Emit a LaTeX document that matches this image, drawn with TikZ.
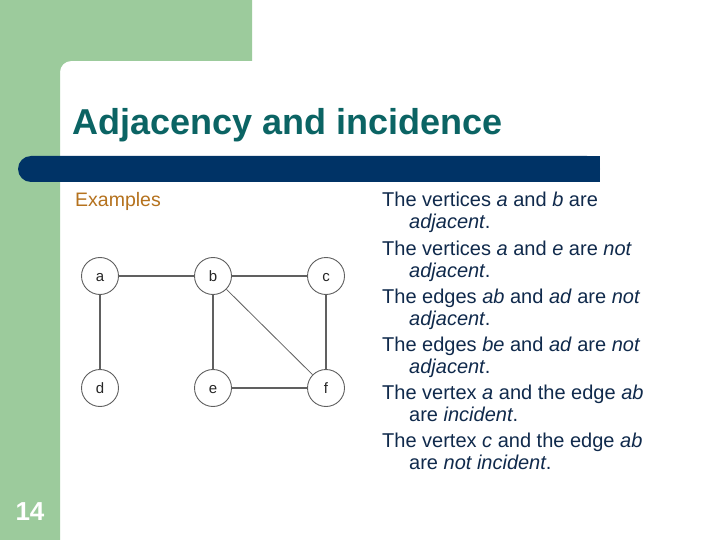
\documentclass[tikz,border=0pt]{standalone}
\usepackage{fontspec}
\setmainfont{Liberation Sans}
\usetikzlibrary{calc}
\definecolor{slidegreen}{HTML}{9CCB9C}
\definecolor{barblue}{HTML}{003366}
\definecolor{titleteal}{HTML}{0B6464}
\definecolor{subbrown}{HTML}{B5721E}
\definecolor{textnavy}{HTML}{102A4C}
\definecolor{edgegray}{HTML}{606060}
\tikzset{
  vertex/.style={circle, draw=edgegray, line width=0.9pt, minimum size=37pt, inner sep=0pt, text height=10pt, text depth=0pt, font=\fontsize{15}{15}\selectfont, text=black!85},
  edge/.style={draw=edgegray, line width=1.1pt},
  item/.style={anchor=base west, inner sep=0pt, align=left, text=textnavy, font=\fontsize{20}{22}\selectfont}
}

\begin{document}
\begin{tikzpicture}[x=1pt, y=-1pt]
			%%%%% START %%%%%
			\useasboundingbox (0, 0) rectangle (720, 540);
			\fill[white] (0, 0) rectangle (720, 540);
			
			\fill[slidegreen] (0, 0) -- (252, 0) -- (252, 61) -- (71, 61) .. controls (65, 61) and (60, 66) .. (60, 72) -- (60, 540) -- (0, 540) -- cycle;
			\fill[barblue, rounded corners=13pt] (18, 156) rectangle (600, 182);
			\fill[barblue] (580, 156) rectangle (600, 182);
			
			\node[anchor=base west, inner sep=0pt, text=titleteal, font=\fontsize{36}{36}\selectfont\bfseries] (title) at (72, 135) {Adjacency and incidence};
			\node[anchor=base west, inner sep=0pt, text=subbrown, font=\fontsize{19.5}{22}\selectfont] (examples) at (75, 207) {Examples};
			\node[anchor=base, inner sep=0pt, text=white, font=\fontsize{26}{26}\selectfont\bfseries] (pagenum) at (30, 520) {14};
			
			\node[vertex] (a) at (100, 276) {a};
			\node[vertex] (b) at (213, 276) {b};
			\node[vertex] (c) at (326, 276) {c};
			\node[vertex] (d) at (100, 388) {d};
			\node[vertex] (e) at (213, 388) {e};
			\node[vertex] (f) at (326, 388) {f};
			
			\draw[edge] (a) -- (b);
			\draw[edge] (b) -- (c);
			\draw[edge] (a) -- (d);
			\draw[edge] (b) -- (e);
			\draw[edge] (c) -- (f);
			\draw[edge] (e) -- (f);
			\draw[edge, line width=0.8pt] (b) -- (f);
			
			% base anchor sits on the second line
			\node[item] (item1) at (382, 229) {The vertices \textit{a} and \textit{b} are\\\hspace*{27pt}\textit{adjacent}.};
			\node[item] (item2) at (382, 277) {The vertices \textit{a} and \textit{e} are \textit{not}\\\hspace*{27pt}\textit{adjacent}.};
			\node[item] (item3) at (382, 325) {The edges \textit{ab} and \textit{ad} are \textit{not}\\\hspace*{27pt}\textit{adjacent}.};
			\node[item] (item4) at (382, 373) {The edges \textit{be} and \textit{ad} are \textit{not}\\\hspace*{27pt}\textit{adjacent}.};
			\node[item] (item5) at (382, 421) {The vertex \textit{a} and the edge \textit{ab}\\\hspace*{27pt}are \textit{incident}.};
			\node[item] (item6) at (382, 469) {The vertex \textit{c} and the edge \textit{ab}\\\hspace*{27pt}are \textit{not incident}.};
			%%%%% END %%%%%
\end{tikzpicture}
\end{document}
